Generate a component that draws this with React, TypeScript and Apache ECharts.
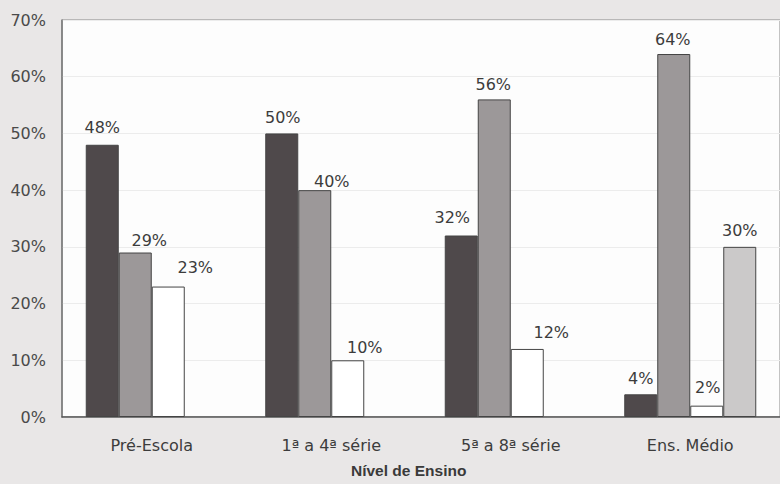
import React, { useEffect, useRef } from "react";
import * as echarts from "echarts";

const categories = ["Pré-Escola", "1ª a 4ª série", "5ª a 8ª série", "Ens. Médio"];
const serieA = [48, 50, 32, 4];
const serieB = [29, 40, 56, 64];
const serieC = [23, 10, 12, 2];
const serieD: (number | null)[] = [null, null, null, 30];
const yTicks = [0, 10, 20, 30, 40, 50, 60, 70];
const axisTitle = "Nível de Ensino";

export default function App() {
  const ref = useRef<HTMLDivElement>(null);
  useEffect(() => {
    if (!ref.current) return;
    const chart = echarts.init(ref.current, undefined, { renderer: "svg" });
    const font = "DejaVu Sans";
    const offA = [[0, 0], [1, 1], [-9, -1], [0, 1]];
    const offB = [[14, 5], [17, 8], [-1, 2], [-1, 2]];
    const offC = [[27, -2], [17, 4], [24, 1], [1, -1]];
    const offD = [[0, 0], [0, 0], [0, 0], [0, 1]];
    const mk = (vals: (number | null)[], offs: number[][]) =>
      vals.map((v, i) => ({ value: v, label: { offset: offs[i] } }));
    const label = {
      show: true,
      position: "top",
      distance: 9,
      formatter: "{c}%",
      fontFamily: font,
      fontSize: 16,
      color: "#3c3c3c",
    };
    const series = [
      { vals: serieA, offs: offA, color: "#4f494b" },
      { vals: serieB, offs: offB, color: "#9c9899" },
      { vals: serieC, offs: offC, color: "#ffffff" },
      { vals: serieD, offs: offD, color: "#cbc9c9" },
    ].map((s) => ({
      type: "bar",
      data: mk(s.vals, s.offs),
      barWidth: 33,
      barGap: "0%",
      itemStyle: { color: s.color, borderColor: "#444", borderWidth: 1 },
      label,
    }));
    chart.setOption({
      animation: false,
      backgroundColor: "#e9e7e7",
      grid: {
        left: 62,
        top: 20,
        width: 724,
        height: 397,
        show: true,
        backgroundColor: "#fdfdfd",
        borderColor: "#888",
        borderWidth: 1,
      },
      xAxis: {
        type: "category",
        data: categories,
        axisLine: { lineStyle: { color: "#555", width: 1.5 } },
        axisTick: { show: false },
        axisLabel: { fontFamily: font, fontSize: 16, color: "#3c3c3c", margin: 20 },
      },
      yAxis: {
        type: "value",
        min: yTicks[0],
        max: yTicks[yTicks.length - 1],
        interval: 10,
        axisLine: { show: true, lineStyle: { color: "#777", width: 1.5 } },
        axisTick: { show: false },
        splitLine: { lineStyle: { color: "#ececec" } },
        axisLabel: {
          formatter: "{value}%",
          fontFamily: font,
          fontSize: 16,
          color: "#4a4a4a",
          margin: 16,
        },
      },
      graphic: [
        {
          type: "text",
          left: 410 - 59,
          top: 462,
          style: {
            text: axisTitle,
            font: "bold 15.5px 'Liberation Sans'",
            fill: "#3a3a3a",
          },
        },
      ],
      series,
    });
    return () => chart.dispose();
  }, []);
  return (
    <div
      ref={ref}
      style={{ position: "fixed", left: 0, top: 0, width: 780, height: 484 }}
    />
  );
}
